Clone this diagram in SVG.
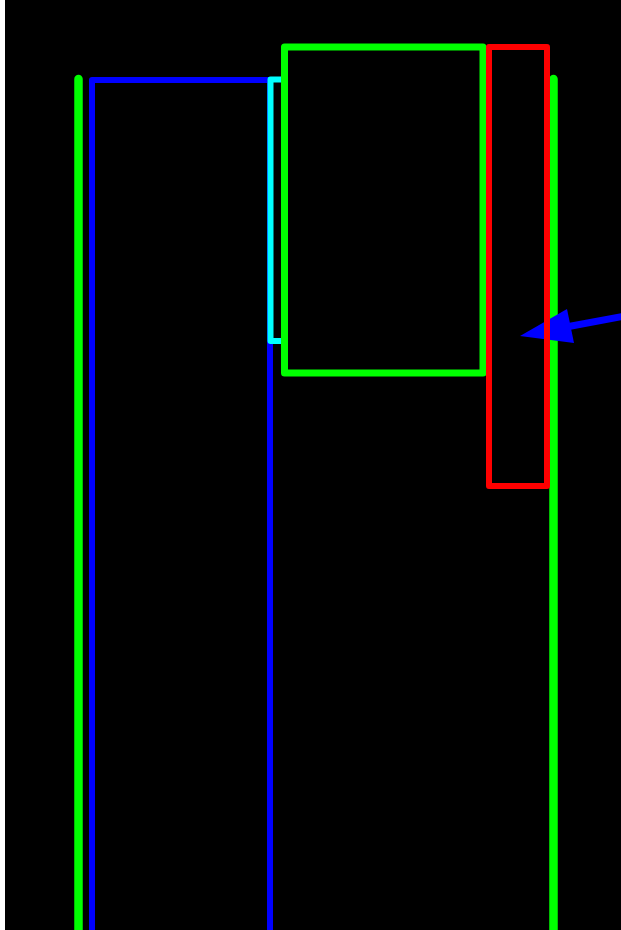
<svg xmlns="http://www.w3.org/2000/svg" width="621" height="930" viewBox="0 0 621 930">
<style>
.ln{fill:none;stroke-linecap:round;stroke-linejoin:round}
.g{stroke:#00ff00;stroke-width:7}
.rail{stroke:#00ff00;stroke-width:8.5}
.b{stroke:#0000ff;stroke-width:6}
.c{stroke:#00ffff;stroke-width:6}
.r{stroke:#ff0000;stroke-width:6}
</style>
<rect x="0" y="0" width="621" height="930" fill="#ffffff"/>
<rect x="5" y="0" width="616" height="930" fill="#000000"/>
<g id="rails">
<line class="ln rail" x1="78.5" y1="79" x2="78.5" y2="935"/>
<line class="ln rail" x1="553.5" y1="79" x2="553.5" y2="935"/>
</g>
<g id="connectors">
<path class="ln b" d="M92,935 V80 H270 V935"/>
<path class="ln c" d="M283,79.5 H270.5 V341 H283"/>
<line x1="625" y1="316" x2="566" y2="327" stroke="#0000ff" stroke-width="7"/>
<polygon points="520,336 567,309 574,343" fill="#0000ff"/>
</g>
<g id="box-green">
<rect class="ln g" x="284.5" y="47" width="198.5" height="326"/>
</g>
<g id="box-red">
<rect class="ln r" x="489" y="47" width="58" height="439"/>
</g>
</svg>
